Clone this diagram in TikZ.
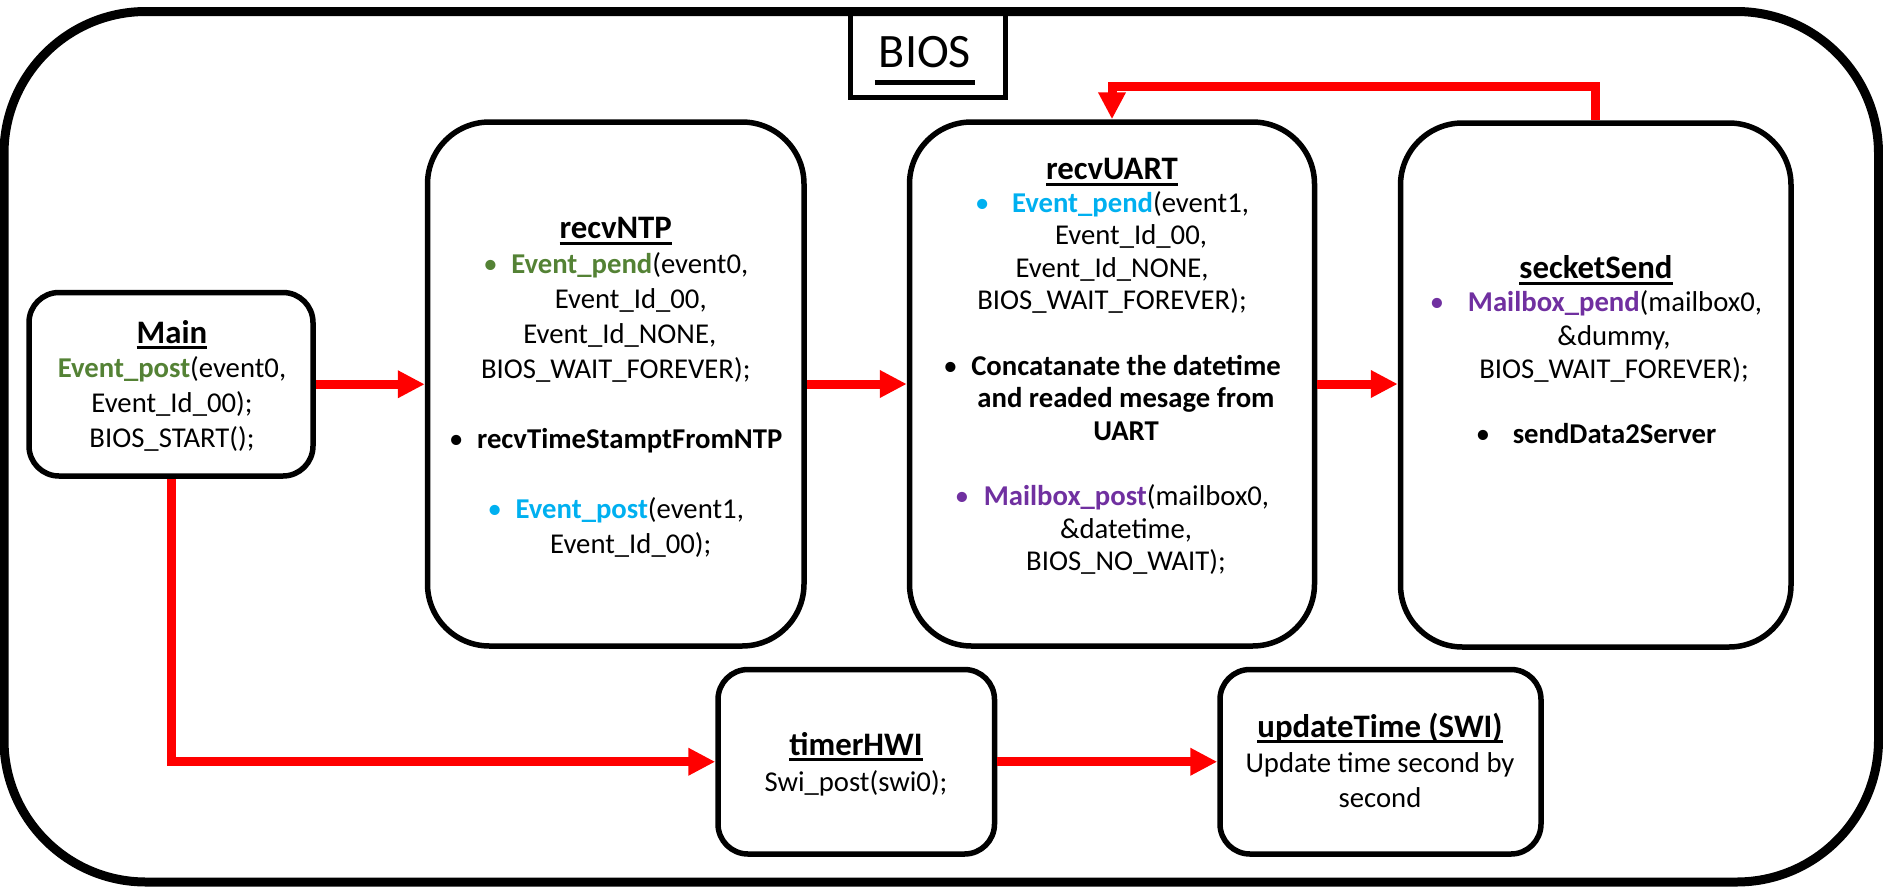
\documentclass[tikz,border=0pt]{standalone}
\usepackage{fontspec}
\setmainfont{Carlito}
\usetikzlibrary{arrows.meta}
\definecolor{mgreen}{HTML}{548235}
\definecolor{mblue}{HTML}{00B0F0}
\definecolor{mpurple}{HTML}{7030A0}
\newcommand\myul[1]{\leavevmode\setbox0=\hbox{#1}\rlap{\rule[-6pt]{\wd0}{2.8pt}}\box0}
\newcommand\biosul[1]{\leavevmode\setbox0=\hbox{#1}\rlap{\kern-4pt\rule[-18pt]{\dimexpr\wd0+8pt\relax}{5pt}}\box0}
\newcommand\ttl[1]{\rule{0pt}{28pt}{\fontsize{32.8}{35}\selectfont\bfseries\myul{#1}}}
\newcommand\bul[2]{\makebox[#2][l]{\textcolor{#1}{\textbullet}}}
\begin{document}
\begin{tikzpicture}[x=1pt,y=-1pt,
  box/.style={draw, line width=5.5pt, inner sep=0pt},
  txt/.style={inner sep=0pt, align=center, anchor=north},
  redarr/.style={draw=red, line width=9pt, -{Triangle[length=27pt,width=26pt]}},
]
\useasboundingbox (0,0) rectangle (1883,887);
% outer frame
\draw[line width=9pt, rounded corners=142pt] (4,11.5) rectangle (1878.5,882);
% BIOS label box
\node[draw, line width=5pt, inner sep=0pt, minimum width=155pt, minimum height=86pt] (bios) at (928,54.5) {};
\node[inner sep=0pt, anchor=base] (biosT) at (925,67) {\fontsize{48}{50}\selectfont\biosul{BIOS}};

% boxes
\node[box, rounded corners=30pt, minimum width=284pt, minimum height=183.5pt] (Main) at (171,384.25) {};
\node[box, rounded corners=62pt, minimum width=376.5pt, minimum height=524pt] (recvNTP) at (615.75,384) {};
\node[box, rounded corners=62pt, minimum width=405pt, minimum height=524pt] (recvUART) at (1112,384) {};
\node[box, rounded corners=62pt, minimum width=390.5pt, minimum height=524pt] (secketSend) at (1595.75,385) {};
\node[box, rounded corners=30pt, minimum width=276.5pt, minimum height=184.5pt] (timerHWI) at (856.25,761.75) {};
\node[box, rounded corners=30pt, minimum width=321pt, minimum height=184.5pt] (updateTime) at (1380.5,761.75) {};

% texts
\node[txt, font=\fontsize{28.7}{34.7}\selectfont] (mainT) at (172,315)
  {\ttl{Main}\\
   {\bfseries\color{mgreen}Event\_post}(event0,\\
   Event\_Id\_00);\\
   BIOS\_START();};

\node[txt, font=\fontsize{28.7}{35}\selectfont] (recvNTPT) at (615.75,210.3)
  {\ttl{recvNTP}\\
   \bul{mgreen}{28pt}{\bfseries\color{mgreen}Event\_pend}(event0,\\
   \hspace*{30pt}Event\_Id\_00,\\
   \hspace*{8pt}Event\_Id\_NONE,\\
   BIOS\_WAIT\_FOREVER);\\[35pt]
   \bul{black}{28pt}\textbf{recvTimeStamptFromNTP}\\[35pt]
   \bul{mblue}{28pt}{\bfseries\color{mblue}Event\_post}(event1,\\
   \hspace*{30pt}Event\_Id\_00);};

\node[txt, font=\fontsize{28.7}{32.6}\selectfont] (recvUARTT) at (1112,151.3)
  {\ttl{recvUART}\\
   \bul{mblue}{37pt}{\bfseries\color{mblue}Event\_pend}(event1,\\
   \hspace*{38pt}Event\_Id\_00,\\
   Event\_Id\_NONE,\\
   BIOS\_WAIT\_FOREVER);\\[32.6pt]
   \bul{black}{28pt}\textbf{Concatanate the datetime}\\
   \hspace*{28pt}\textbf{and readed mesage from}\\
   \hspace*{28pt}\textbf{UART}\\[32.6pt]
   \bul{mpurple}{29pt}{\bfseries\color{mpurple}Mailbox\_post}(mailbox0,\\
   \hspace*{28pt}\&datetime,\\
   \hspace*{28pt}BIOS\_NO\_WAIT);};

\node[txt, font=\fontsize{28.7}{33.3}\selectfont] (secketSendT) at (1596,250.3)
  {\ttl{secketSend}\\
   \bul{mpurple}{38pt}{\bfseries\color{mpurple}Mailbox\_pend}(mailbox0,\\
   \hspace*{36pt}\&dummy,\\
   \hspace*{36pt}BIOS\_WAIT\_FOREVER);\\[32pt]
   \bul{black}{37pt}\textbf{sendData2Server}};

\node[txt, font=\fontsize{28.7}{36}\selectfont] (timerHWIT) at (856,727)
  {\ttl{timerHWI}\\
   Swi\_post(swi0);};

\node[txt, font=\fontsize{28.7}{35}\selectfont] (updateTimeT) at (1380,709)
  {\ttl{updateTime (SWI)}\\
   Update time second by\\
   second};

% connectors
\coordinate (loopy) at (0,86.5);
\draw[redarr] (Main.east) -- (Main.east -| recvNTP.west);
\draw[redarr] (recvNTP.east) -- (recvUART.west);
\draw[redarr] (recvUART.east) -- (secketSend.west |- recvUART.east);
\draw[redarr] (secketSend.north) -- (secketSend.north |- loopy) -| (recvUART.north);
\draw[redarr] (Main.south) |- (timerHWI.west);
\draw[redarr] (timerHWI.east) -- (updateTime.west);
\end{tikzpicture}
\end{document}
